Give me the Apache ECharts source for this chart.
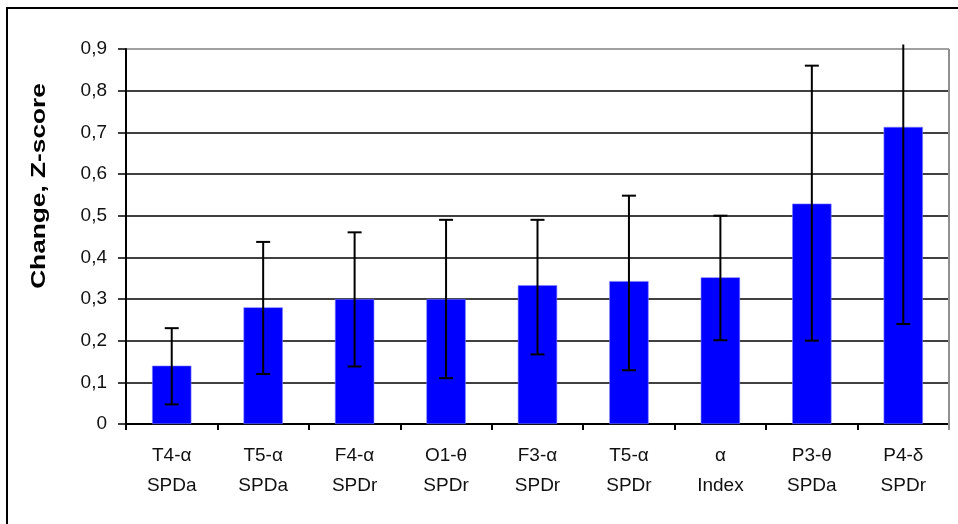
<!DOCTYPE html>
<html>
<head>
<meta charset="utf-8">
<script src="https://cdn.jsdelivr.net/npm/echarts@6/dist/echarts.min.js"></script>
<style>
html,body{margin:0;padding:0;background:#fff;}
#chart{width:958px;height:524px;}
</style>
</head>
<body>
<div id="chart"></div>
<script>
const categories = ['T4-α\nSPDa','T5-α\nSPDa','F4-α\nSPDr','O1-θ\nSPDr','F3-α\nSPDr','T5-α\nSPDr','α\nIndex','P3-θ\nSPDa','P4-δ\nSPDr'];
const values = [0.14, 0.28, 0.30, 0.30, 0.333, 0.343, 0.352, 0.529, 0.713];
const errLow = [0.047, 0.12, 0.138, 0.11, 0.167, 0.129, 0.201, 0.20, 0.24];
const errHigh = [0.23, 0.437, 0.46, 0.49, 0.49, 0.548, 0.50, 0.86, 0.911];
const yTicks = [0,0.1,0.2,0.3,0.4,0.5,0.6,0.7,0.8,0.9];
const yMax = 0.9;

const font = 'Arial, "Liberation Sans", sans-serif';
const chart = echarts.init(document.getElementById('chart'), null, {renderer:'canvas'});

const splitColors = yTicks.map((t,i)=> i === yTicks.length-1 ? '#808080' : '#000000');

chart.setOption({
  animation:false,
  backgroundColor:'#ffffff',
  grid:{left:126, top:49, right:9, bottom:100, show:false},
  graphic:[
    {type:'rect', shape:{x:7,y:8,width:1200,height:1000}, style:{fill:null, stroke:'#000', lineWidth:2}, silent:true, z:-10},
    {type:'line', shape:{x1:949,y1:49,x2:949,y2:430}, style:{stroke:'#909090', lineWidth:2}, z:1},
    {type:'text', x:39, y:186, rotation:Math.PI/2, scaleX:1.25, scaleY:1,
      style:{text:'Change, Z-score', font:'bold 21px '+font, fill:'#000', align:'center', verticalAlign:'middle'}}
  ],
  xAxis:{
    type:'category', data:categories,
    axisLine:{show:true, lineStyle:{color:'#000', width:2}},
    axisTick:{show:true, alignWithLabel:false, length:6, lineStyle:{color:'#000', width:2}},
    axisLabel:{color:'#111', fontFamily:font, fontSize:19, lineHeight:30, margin:17, interval:0},
    splitLine:{show:false}
  },
  yAxis:{
    type:'value', min:0, max:yMax, interval:0.1,
    axisLine:{show:true, lineStyle:{color:'#000', width:2}},
    axisTick:{show:true, inside:false, length:8, lineStyle:{color:'#000', width:1.5}},
    axisLabel:{color:'#111', fontFamily:font, fontSize:19, margin:19,
      formatter:v=>{ const s = (Math.round(v*10)/10).toString(); return s.replace('.',','); }},
    splitLine:{show:true, lineStyle:{color:splitColors, width:1.5}}
  },
  series:[
    {type:'bar', data:values, barWidth:'43%', itemStyle:{color:'#0000ff', borderColor:'#7f7fff', borderWidth:0.6}, z:2},
    {type:'custom', z:5, clip:false,
      data:categories.map((c,i)=>[i, errLow[i], errHigh[i]]),
      renderItem:(params, api)=>{
        const i = api.value(0);
        const lo = api.coord([i, api.value(1)]);
        const hi = api.coord([i, api.value(2)]);
        const hw = 7;
        const children = [
          {type:'line', shape:{x1:lo[0],y1:lo[1],x2:hi[0],y2:hi[1]}, style:{stroke:'#000', lineWidth:2}},
          {type:'line', shape:{x1:lo[0]-hw,y1:lo[1],x2:lo[0]+hw,y2:lo[1]}, style:{stroke:'#000', lineWidth:2}}
        ];
        if (api.value(2) <= yMax) {
          children.push({type:'line', shape:{x1:hi[0]-hw,y1:hi[1],x2:hi[0]+hw,y2:hi[1]}, style:{stroke:'#000', lineWidth:2}});
        }
        return {type:'group', children};
      }
    }
  ]
});
</script>
</body>
</html>
